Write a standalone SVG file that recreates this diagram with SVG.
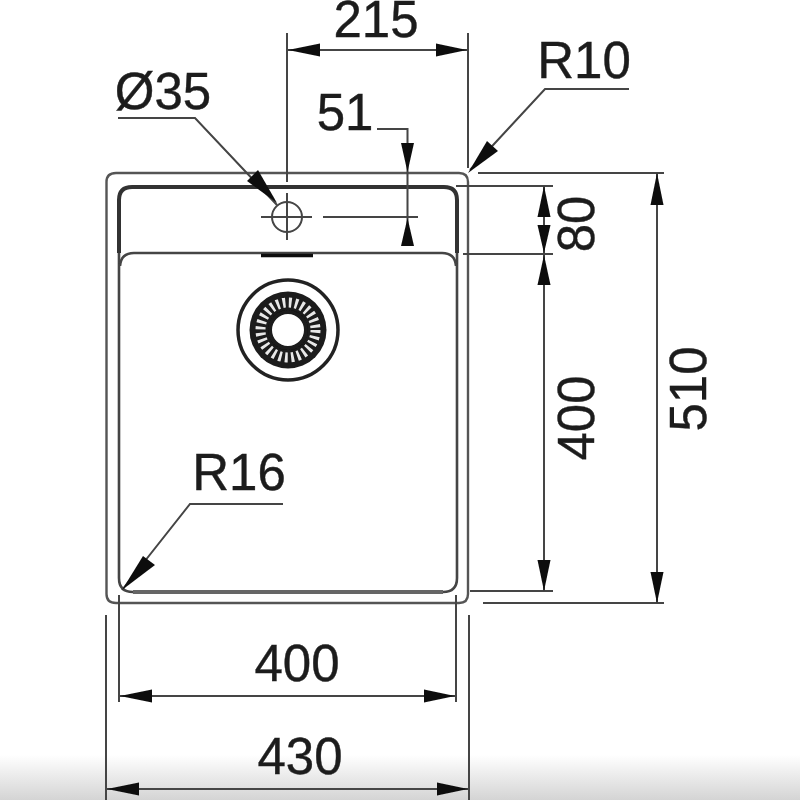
<svg xmlns="http://www.w3.org/2000/svg" width="800" height="800" viewBox="0 0 800 800">
<style>
text{font-family:"Liberation Sans",Arial,sans-serif;font-size:51px;fill:#1c1c1c;stroke:#1c1c1c;stroke-width:0.4;text-anchor:middle}
.t{fill:none;stroke:#444;stroke-width:2}
.o{fill:none;stroke:#555;stroke-width:2.4}
.b{fill:none;stroke:#333;stroke-width:4}
.m{fill:none;stroke:#444;stroke-width:2.6}
.a{fill:#111;stroke:none}
</style>
<defs>
<linearGradient id="fade" x1="0" y1="0" x2="0" y2="1"><stop offset="0" stop-color="#fff"/><stop offset="1" stop-color="#d4d4d4"/></linearGradient>
<filter id="soft" x="-5%" y="-5%" width="110%" height="110%"><feGaussianBlur stdDeviation="0.55"/></filter>
</defs>
<rect width="800" height="800" fill="#fff"/>
<rect x="0" y="755" width="800" height="45" fill="url(#fade)"/>
<g filter="url(#soft)">
<g id="sink">
<path class="o" d="M116 173H459Q468 173 468 182V594Q468 603 459 603H116Q106.500 603 106.500 594V182Q106.500 173 116 173Z"/>
<path class="b" d="M119 253V200Q119 187 132 187H444Q457 187 457 200V253"/>
<path class="m" d="M119 253V578Q119 592 133 592H443Q457 592 457 578V253"/>
<path d="M133 592H443" fill="none" stroke="#666" stroke-width="4"/>
<path class="m" d="M120 266Q121 253 134 253H442Q455 253 456 266"/>
<path d="M261 255.500H313" fill="none" stroke="#111" stroke-width="3.500"/>
</g>
<g id="tap-hole">
<circle class="t" cx="287" cy="217" r="15"/>
<path class="t" d="M287 193V240M261 217H312M323 217H418"/>
</g>
<g id="drain">
<circle cx="288" cy="330" r="50" fill="none" stroke="#222" stroke-width="3.500"/>
<circle cx="288" cy="330" r="38.500" fill="#1a1a1a"/>
<circle cx="288" cy="330" r="27.500" fill="none" stroke="#e8e8e8" stroke-width="10" stroke-dasharray="2.800 3.400"/>
<circle cx="288" cy="330" r="18" fill="#fff" stroke="#1a1a1a" stroke-width="4"/>
</g>
<g id="connectors">
<path class="t" d="M287 33V182M468 33V168"/>
<path class="t" d="M287 50H468"/>
<path class="t" d="M629 89H545L470 170"/>
<path class="t" d="M377 129H407.500V245"/>
<path class="t" d="M118 118H195L277 205"/>
<path class="t" d="M283 504H190L122 590"/>
<path class="t" d="M456 186H553M463 254H553M470 591H553M478 173H664M483 603H664"/>
<path class="t" d="M544 186V592M657 173V603"/>
<path class="t" d="M119 595V702M456 595V702M119 696H456"/>
<path class="t" d="M106 615V800M469 615V800M106 789H469"/>
<g class="arrows">
<path class="a" d="M288 50L320 43.500V56.500Z"/>
<path class="a" d="M467 50L436 43.500V56.500Z"/>
<path class="a" d="M407.500 172L401 143H414Z"/>
<path class="a" d="M407.500 218L401 246H414Z"/>
<path class="a" d="M468 173L487 141L498 151Z"/>
<path class="a" d="M277 203L258 170L247 181Z"/>
<path class="a" d="M122 590L143 556L155 565Z"/>
<path class="a" d="M544 186L537.500 217H550.500Z"/>
<path class="a" d="M544 253L537.500 225H550.500Z"/>
<path class="a" d="M544 255L537.500 285H550.500Z"/>
<path class="a" d="M544 591L537.500 560H550.500Z"/>
<path class="a" d="M657 173L650.500 205H663.500Z"/>
<path class="a" d="M657 603L650.500 572H663.500Z"/>
<path class="a" d="M120 696L152 689.500V702.500Z"/>
<path class="a" d="M455 696L424 689.500V702.500Z"/>
<path class="a" d="M107 789L139 782.500V795.500Z"/>
<path class="a" d="M468 789L437 782.500V795.500Z"/>
</g>
</g>
<g id="labels">
<text x="376" y="37">215</text>
<text x="584" y="78">R10</text>
<text x="163" y="109">Ø35</text>
<text x="345" y="130">51</text>
<text x="239" y="490">R16</text>
<text x="297" y="681">400</text>
<text x="300" y="774">430</text>
<text transform="translate(594 224) rotate(-90)">80</text>
<text transform="translate(594 418) rotate(-90)">400</text>
<text transform="translate(706 389) rotate(-90)">510</text>
</g>
</g>
</svg>
